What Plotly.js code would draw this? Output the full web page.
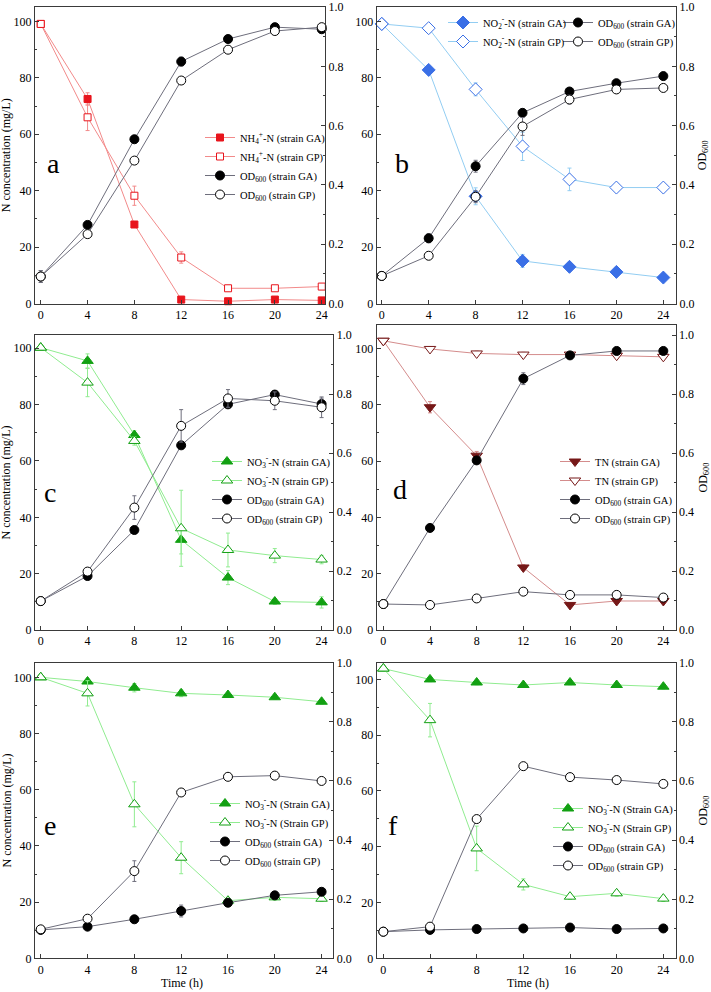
<!DOCTYPE html>
<html>
<head>
<meta charset="utf-8">
<script src="https://cdn.plot.ly/plotly-3.0.1.min.js"></script>
<style>html,body{margin:0;padding:0;background:#fff;}#chart{width:711px;height:992px;}</style>
</head>
<body>
<div id="chart"></div>
<script>
// ---------- data ----------
const time = [0, 4, 8, 12, 16, 20, 24];
const xTicks = [0, 4, 8, 12, 16, 20, 24];

// panel a
const a_nh4_GA = [99.1, 72.5, 28.0, 1.4, 0.8, 1.4, 1.1];
const a_nh4_GA_err = [0.5, 2.2, 0.8, 0.5, 0.3, 0.5, 0.3];
const a_nh4_GP = [99.1, 66.0, 38.2, 16.3, 5.4, 5.4, 6.0];
const a_nh4_GP_err = [0.5, 4.7, 3.4, 2.0, 0.5, 0.5, 0.5];
const a_od_GA = [0.091, 0.265, 0.554, 0.816, 0.892, 0.932, 0.925];
const a_od_GA_err = [0.02, 0.01, 0.01, 0.015, 0.01, 0.01, 0.01];
const a_od_GP = [0.091, 0.234, 0.482, 0.752, 0.856, 0.919, 0.932];
const a_od_GP_err = [0.02, 0.01, 0.01, 0.01, 0.01, 0.01, 0.01];

// panel b
const b_no2_GA = [99.1, 82.8, 38.0, 15.1, 13.0, 11.2, 9.2];
const b_no2_GA_err = [0.5, 1.0, 3.0, 2.3, 0.8, 0.6, 0.5];
const b_no2_GP = [99.1, 97.6, 75.9, 55.7, 44.0, 41.1, 41.1];
const b_no2_GP_err = [0.5, 0.8, 2.3, 5.0, 4.0, 0.8, 0.6];
const b_od_GA = [0.093, 0.220, 0.463, 0.643, 0.715, 0.743, 0.767];
const b_od_GA_err = [0.005, 0.015, 0.02, 0.01, 0.01, 0.01, 0.01];
const b_od_GP = [0.093, 0.161, 0.360, 0.597, 0.688, 0.722, 0.727];
const b_od_GP_err = [0.005, 0.01, 0.02, 0.03, 0.015, 0.01, 0.01];

// panel c
const c_no3_GA = [100.2, 95.5, 69.2, 32.0, 18.6, 10.1, 9.8];
const c_no3_GA_err = [0.5, 2.5, 1.5, 5.0, 2.5, 1.0, 2.0];
const c_no3_GP = [100.2, 87.8, 67.1, 36.1, 28.4, 26.4, 25.0];
const c_no3_GP_err = [0.5, 5.0, 1.5, 13.5, 6.0, 2.5, 1.5];
const c_od_GA = [0.098, 0.183, 0.339, 0.626, 0.765, 0.798, 0.766];
const c_od_GA_err = [0.005, 0.01, 0.01, 0.01, 0.01, 0.01, 0.02];
const c_od_GP = [0.098, 0.198, 0.415, 0.692, 0.785, 0.777, 0.755];
const c_od_GP_err = [0.01, 0.01, 0.04, 0.055, 0.03, 0.03, 0.035];

// panel d
const d_tn_GA = [102.7, 79.1, 61.9, 22.2, 8.9, 10.3, 10.3];
const d_tn_GA_err = [0.5, 2.0, 1.5, 1.0, 0.5, 0.8, 0.8];
const d_tn_GP = [102.7, 99.8, 98.2, 97.8, 97.8, 97.4, 97.0];
const d_tn_GP_err = [0.5, 0.8, 0.8, 0.8, 0.6, 0.6, 0.6];
const d_od_GA = [0.088, 0.346, 0.575, 0.852, 0.931, 0.946, 0.946];
const d_od_GA_err = [0.005, 0.01, 0.01, 0.02, 0.01, 0.01, 0.01];
const d_od_GP = [0.088, 0.085, 0.107, 0.130, 0.119, 0.119, 0.110];
const d_od_GP_err = [0.005, 0.005, 0.005, 0.005, 0.01, 0.01, 0.005];

// panel e
const e_no3_GA = [100.0, 98.5, 96.3, 94.3, 93.7, 92.9, 91.3];
const e_no3_GA_err = [0.5, 0.8, 1.5, 1.2, 0.8, 0.8, 0.8];
const e_no3_GP = [100.0, 94.3, 54.8, 35.8, 20.5, 21.7, 21.2];
const e_no3_GP_err = [0.5, 4.5, 8.0, 5.7, 1.0, 1.0, 1.0];
const e_od_GA = [0.096, 0.107, 0.132, 0.160, 0.188, 0.213, 0.225];
const e_od_GA_err = [0.005, 0.005, 0.005, 0.02, 0.005, 0.01, 0.005];
const e_od_GP = [0.098, 0.134, 0.295, 0.561, 0.614, 0.618, 0.600];
const e_od_GP_err = [0.005, 0.005, 0.035, 0.01, 0.01, 0.01, 0.01];

// panel f
const f_no3_GA = [103.9, 100.0, 98.9, 98.0, 98.9, 98.0, 97.4];
const f_no3_GA_err = [0.5, 0.8, 0.8, 0.8, 0.8, 0.8, 0.8];
const f_no3_GP = [103.9, 85.4, 39.4, 26.5, 22.1, 23.3, 21.4];
const f_no3_GP_err = [0.5, 6.0, 8.0, 2.0, 1.0, 1.0, 1.0];
const f_od_GA = [0.090, 0.096, 0.099, 0.101, 0.104, 0.099, 0.101];
const f_od_GA_err = [0.005, 0.005, 0.005, 0.005, 0.005, 0.005, 0.005];
const f_od_GP = [0.090, 0.107, 0.471, 0.650, 0.613, 0.603, 0.590];
const f_od_GP_err = [0.005, 0.005, 0.01, 0.01, 0.01, 0.01, 0.01];

// labels
const lblNH4GA = 'NH<sub>4</sub><sup>+</sup>-N (strain GA)';
const lblNH4GP = 'NH<sub>4</sub><sup>+</sup>-N (strain GP)';
const lblNO2GA = 'NO<sub>2</sub><sup>-</sup>-N (strain GA)';
const lblNO2GP = 'NO<sub>2</sub><sup>-</sup>-N (strain GP)';
const lblNO3GA = 'NO<sub>3</sub><sup>-</sup>-N (strain GA)';
const lblNO3GP = 'NO<sub>3</sub><sup>-</sup>-N (strain GP)';
const lblNO3GAs = 'NO<sub>3</sub><sup>-</sup>-N (Strain GA)';
const lblNO3GPs = 'NO<sub>3</sub><sup>-</sup>-N (Strain GP)';
const lblTNGA = 'TN (strain GA)';
const lblTNGP = 'TN (strain GP)';
const lblODGA = 'OD<sub>600</sub> (strain GA)';
const lblODGP = 'OD<sub>600</sub> (strain GP)';
const panelLetters = ['a', 'b', 'c', 'd', 'e', 'f'];

// ---------- layout geometry (pixels) ----------
const W = 711, H = 992;
const FONT = 'Liberation Serif';
const frames = [
  {x0: 35, x1: 325, y0: 7, y1: 303.5, xr: [-0.49, 24.28], yl: 105.1, yr: 1.0},
  {x0: 376.7, x1: 676, y0: 7, y1: 303.5, xr: [-0.43, 25.08], yl: 105.1, yr: 1.0},
  {x0: 35, x1: 333.3, y0: 335, y1: 630, xr: [-0.49, 25.0], yl: 104.7, yr: 1.0},
  {x0: 376.7, x1: 675.7, y0: 325, y1: 630, xr: [-0.57, 25.06], yl: 108.3, yr: 1.034},
  {x0: 35, x1: 333.3, y0: 662.7, y1: 958.3, xr: [-0.49, 25.0], yl: 105.2, yr: 1.0},
  {x0: 376.7, x1: 675.7, y0: 662.7, y1: 958.3, xr: [-0.57, 25.06], yl: 106, yr: 1.0}
];

const C = {
  red: '#e8141c', redLine: '#f28a8a',
  blue: '#3a6fe6', blueLine: '#92cdf2',
  green: '#12a012', greenLine: '#90ec90',
  tn: '#761818', tnLine: '#d48c8c',
  od: '#000000', odLine: '#6e6e7c'
};

function axIds(i) {
  return {
    x: i === 0 ? 'x' : 'x' + (i + 1),
    yl: i === 0 ? 'y' : 'y' + (2 * i + 1),
    yr: 'y' + (2 * i + 2)
  };
}

function mk(i, side, y, err, name, legend, rank, symbol, size, mcolor, filled, lcolor) {
  const ids = axIds(i);
  return {
    type: 'scatter', mode: 'lines+markers', x: time, y: y, name: name,
    legend: legend, legendrank: rank,
    xaxis: ids.x, yaxis: side === 'L' ? ids.yl : ids.yr,
    line: {color: lcolor, width: 1},
    marker: {symbol: symbol, size: size, color: filled ? mcolor : '#ffffff',
             line: {color: mcolor, width: 1}},
    error_y: {type: 'data', array: err, visible: true, color: lcolor, thickness: 1, width: 2},
    cliponaxis: false
  };
}

const data = [
  // a
  mk(0, 'R', a_od_GA, a_od_GA_err, lblODGA, 'legend', 3, 'circle', 9, C.od, true, C.odLine),
  mk(0, 'R', a_od_GP, a_od_GP_err, lblODGP, 'legend', 4, 'circle', 9, C.od, false, C.odLine),
  mk(0, 'L', a_nh4_GA, a_nh4_GA_err, lblNH4GA, 'legend', 1, 'square', 7, C.red, true, C.redLine),
  mk(0, 'L', a_nh4_GP, a_nh4_GP_err, lblNH4GP, 'legend', 2, 'square', 7, C.red, false, C.redLine),
  // b
  mk(1, 'R', b_od_GA, b_od_GA_err, lblODGA, 'legend3', 1, 'circle', 9, C.od, true, C.odLine),
  mk(1, 'R', b_od_GP, b_od_GP_err, lblODGP, 'legend3', 2, 'circle', 9, C.od, false, C.odLine),
  mk(1, 'L', b_no2_GA, b_no2_GA_err, lblNO2GA, 'legend2', 1, 'diamond', 10, C.blue, true, C.blueLine),
  mk(1, 'L', b_no2_GP, b_no2_GP_err, lblNO2GP, 'legend2', 2, 'diamond', 10, C.blue, false, C.blueLine),
  // c
  mk(2, 'R', c_od_GA, c_od_GA_err, lblODGA, 'legend4', 3, 'circle', 9, C.od, true, C.odLine),
  mk(2, 'R', c_od_GP, c_od_GP_err, lblODGP, 'legend4', 4, 'circle', 9, C.od, false, C.odLine),
  mk(2, 'L', c_no3_GA, c_no3_GA_err, lblNO3GA, 'legend4', 1, 'triangle-up', 10, C.green, true, C.greenLine),
  mk(2, 'L', c_no3_GP, c_no3_GP_err, lblNO3GP, 'legend4', 2, 'triangle-up', 10, C.green, false, C.greenLine),
  // d
  mk(3, 'R', d_od_GA, d_od_GA_err, lblODGA, 'legend5', 3, 'circle', 9, C.od, true, C.odLine),
  mk(3, 'R', d_od_GP, d_od_GP_err, lblODGP, 'legend5', 4, 'circle', 9, C.od, false, C.odLine),
  mk(3, 'L', d_tn_GA, d_tn_GA_err, lblTNGA, 'legend5', 1, 'triangle-down', 10, C.tn, true, C.tnLine),
  mk(3, 'L', d_tn_GP, d_tn_GP_err, lblTNGP, 'legend5', 2, 'triangle-down', 10, C.tn, false, C.tnLine),
  // e
  mk(4, 'R', e_od_GA, e_od_GA_err, lblODGA, 'legend6', 3, 'circle', 9, C.od, true, C.odLine),
  mk(4, 'R', e_od_GP, e_od_GP_err, lblODGP, 'legend6', 4, 'circle', 9, C.od, false, C.odLine),
  mk(4, 'L', e_no3_GA, e_no3_GA_err, lblNO3GAs, 'legend6', 1, 'triangle-up', 10, C.green, true, C.greenLine),
  mk(4, 'L', e_no3_GP, e_no3_GP_err, lblNO3GPs, 'legend6', 2, 'triangle-up', 10, C.green, false, C.greenLine),
  // f
  mk(5, 'R', f_od_GA, f_od_GA_err, lblODGA, 'legend7', 3, 'circle', 9, C.od, true, C.odLine),
  mk(5, 'R', f_od_GP, f_od_GP_err, lblODGP, 'legend7', 4, 'circle', 9, C.od, false, C.odLine),
  mk(5, 'L', f_no3_GA, f_no3_GA_err, lblNO3GAs, 'legend7', 1, 'triangle-up', 10, C.green, true, C.greenLine),
  mk(5, 'L', f_no3_GP, f_no3_GP_err, lblNO3GPs, 'legend7', 2, 'triangle-up', 10, C.green, false, C.greenLine)
];

const layout = {
  width: W, height: H,
  margin: {l: 0, r: 0, t: 0, b: 0},
  paper_bgcolor: '#ffffff', plot_bgcolor: '#ffffff',
  font: {family: FONT, size: 12, color: '#000'},
  annotations: []
};

const AX = '#3a3a3a';
frames.forEach((f, i) => {
  const ids = axIds(i);
  const xKey = 'xaxis' + (i === 0 ? '' : (i + 1));
  const ylKey = 'yaxis' + (i === 0 ? '' : (2 * i + 1));
  const yrKey = 'yaxis' + (2 * i + 2);
  const yd = [1 - f.y1 / H, 1 - f.y0 / H];
  layout[xKey] = {
    domain: [f.x0 / W, f.x1 / W], range: f.xr, anchor: ids.yl,
    tickmode: 'array', tickvals: xTicks, ticks: 'inside', ticklen: 4, tickcolor: AX,
    showline: true, linecolor: AX, linewidth: 1, mirror: true,
    showgrid: false, zeroline: false, tickfont: {family: FONT, size: 12},
    ticklabeloverflow: 'allow'
  };
  layout[ylKey] = {
    domain: yd, range: [0, f.yl], anchor: ids.x, side: 'left',
    tickvals: [0, 20, 40, 60, 80, 100], ticks: 'inside', ticklen: 4, tickcolor: AX,
    minor: {tickvals: [10, 30, 50, 70, 90], ticks: 'inside', ticklen: 2, tickcolor: AX},
    showline: true, linecolor: AX, linewidth: 1,
    showgrid: false, zeroline: false, tickfont: {family: FONT, size: 12},
    ticklabeloverflow: 'allow'
  };
  layout[yrKey] = {
    domain: yd, range: [0, f.yr], anchor: ids.x, side: 'right', overlaying: ids.yl,
    tickvals: [0, 0.2, 0.4, 0.6, 0.8, 1.0], tickformat: '.1f', ticks: 'inside', ticklen: 4, tickcolor: AX,
    minor: {tickvals: [0.1, 0.3, 0.5, 0.7, 0.9], ticks: 'inside', ticklen: 2, tickcolor: AX},
    showline: true, linecolor: AX, linewidth: 1,
    showgrid: false, zeroline: false, tickfont: {family: FONT, size: 12},
    ticklabeloverflow: 'allow'
  };
});

// legends
function leg(px, py) {
  return {x: px / W, y: 1 - py / H, xanchor: 'left', yanchor: 'top', xref: 'paper', yref: 'paper',
          bgcolor: 'rgba(0,0,0,0)', borderwidth: 0, itemwidth: 30, tracegroupgap: 0,
          traceorder: 'normal', font: {family: FONT, size: 10.5, color: '#000'}};
}
layout.legend = leg(200, 123);
layout.legend2 = leg(443, 8);
layout.legend3 = leg(558, 8);
layout.legend4 = leg(207, 447);
layout.legend5 = leg(555, 447);
layout.legend6 = leg(205, 789);
layout.legend7 = leg(548, 794);

// panel letters
const letterPos = [[53, 164], [402, 164], [50, 492], [400, 490], [50, 825], [393, 825]];
letterPos.forEach((p, i) => {
  layout.annotations.push({text: panelLetters[i], x: p[0] / W, y: 1 - p[1] / H, xref: 'paper', yref: 'paper',
    showarrow: false, xanchor: 'center', yanchor: 'middle', font: {family: FONT, size: 28, color: '#000'}});
});
// axis titles
[0, 2, 4].forEach(i => {
  const f = frames[i];
  layout.annotations.push({text: 'N concentration (mg/L)', x: 6 / W, y: 1 - ((f.y0 + f.y1) / 2) / H,
    xref: 'paper', yref: 'paper', showarrow: false, textangle: -90, xanchor: 'center', yanchor: 'middle',
    font: {family: FONT, size: 12}});
});
[1, 3, 5].forEach(i => {
  const f = frames[i];
  layout.annotations.push({text: 'OD<sub>600</sub>', x: 703 / W, y: 1 - ((f.y0 + f.y1) / 2) / H,
    xref: 'paper', yref: 'paper', showarrow: false, textangle: -90, xanchor: 'center', yanchor: 'middle',
    font: {family: FONT, size: 12}});
});
[[182, 983], [528, 983]].forEach(p => {
  layout.annotations.push({text: 'Time (h)', x: p[0] / W, y: 1 - p[1] / H, xref: 'paper', yref: 'paper',
    showarrow: false, xanchor: 'center', yanchor: 'middle', font: {family: FONT, size: 12}});
});

Plotly.newPlot('chart', data, layout, {staticPlot: true, displayModeBar: false});
</script>
</body>
</html>
